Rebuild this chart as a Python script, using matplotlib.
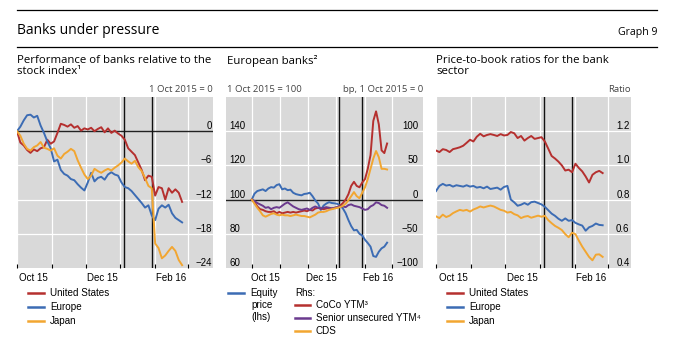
import pandas as pd
import matplotlib
matplotlib.use("Agg")
import matplotlib.pyplot as plt
from matplotlib.lines import Line2D
from matplotlib.transforms import Affine2D
from matplotlib.ticker import FormatStrFormatter

plt.rcParams["font.family"] = ["Liberation Sans", "DejaVu Sans"]

# values, one point every third day from 1 Oct 2015
dates = pd.date_range("2015-10-01", periods=50, freq="3D")
event_dates = pd.to_datetime(["2016-01-04", "2016-01-29"])
month_ticks = pd.date_range("2015-10-01", "2016-03-01", freq="MS")
label_dates = pd.to_datetime(["2015-10-16", "2015-12-16", "2016-02-15"])
label_text = ["Oct 15", "Dec 15", "Feb 16"]

# panel 1: performance relative to stock index, 1 Oct 2015 = 0
rel_us = [0.0, -2.0, -2.5, -3.3, -3.8, -3.2, -3.5, -3.0, -2.8, -1.5,
          -2.2, -1.8, -0.3, 1.3, 1.1, 0.8, 1.2, 0.6, 0.9, 0.1,
          0.5, 0.3, 0.6, 0.0, 0.4, 0.7, -0.2, 0.5, -0.3, 0.1,
          -0.4, -0.8, -1.5, -3.0, -3.6, -4.2, -5.5, -6.8, -8.6, -7.8,
          -8.0, -11.3, -9.8, -10.0, -12.0, -10.0, -10.8, -10.2, -10.8, -12.4]
rel_europe = [0.0, 0.8, 1.9, 2.8, 2.9, 2.4, 2.7, 1.0, -0.3, -1.8,
              -3.0, -5.3, -5.0, -6.8, -7.5, -7.8, -8.4, -8.6, -9.3, -9.9,
              -10.4, -9.0, -7.3, -8.8, -8.2, -8.0, -8.5, -7.6, -7.2, -7.6,
              -7.8, -9.0, -9.8, -10.0, -10.5, -11.2, -11.9, -12.6, -13.4, -13.0,
              -14.8, -15.6, -13.6, -13.0, -13.4, -12.9, -14.4, -15.2, -15.6, -16.0]
rel_japan = [0.0, -0.8, -2.2, -3.1, -3.4, -2.8, -2.5, -1.9, -2.9, -3.1,
             -3.4, -3.0, -4.3, -4.8, -4.0, -3.6, -3.1, -3.5, -5.1, -6.4,
             -7.6, -8.4, -7.8, -6.6, -7.0, -7.3, -6.9, -6.6, -6.9, -6.4,
             -6.0, -5.5, -4.8, -5.3, -5.7, -5.2, -6.3, -7.0, -8.2, -9.6,
             -10.0, -19.7, -20.5, -22.3, -21.8, -21.0, -20.3, -21.0, -22.6, -23.5]
rel_ticks = [-24, -18, -12, -6, 0]

# panel 2: European banks
eq_price = [100, 103.5, 105, 105.5, 106, 105, 106.5, 107.3, 107, 108.5,
            109, 106, 106.5, 105.5, 105.8, 104, 103.2, 102.8, 102.5, 103.3,
            103.5, 104, 102, 99.5, 97.7, 94, 96.5, 97.7, 98.5, 98,
            97.8, 97.5, 96.5, 94.8, 92, 88, 84.5, 82, 82.3, 80,
            79, 76.5, 74.6, 72.5, 67, 66.5, 69.5, 71.5, 72.5, 74.8]
coco_ytm = [0, -4, -10, -14, -15, -17, -18, -18, -17, -20,
            -18, -20, -19, -18, -19, -18, -19, -18, -17, -16,
            -17, -15, -16, -13, -12, -13, -14, -13, -12, -13,
            -12, -11, -9, -5, 0, 8, 20, 26, 20, 18,
            25, 30, 45, 65, 115, 129, 110, 72, 68, 82]
senior_ytm = [0, -2, -5, -7, -9, -12, -11, -14, -12, -11,
              -12, -9, -6, -4, -7, -10, -12, -14, -15, -14,
              -13, -15, -12, -10, -12, -13, -12, -11, -12, -13,
              -12, -11, -10, -10, -11, -8, -7, -9, -10, -11,
              -13, -15, -14, -10, -8, -4, -5, -8, -9, -12]
cds = [0, -6, -12, -17, -23, -25, -23, -21, -20, -22,
       -23, -22, -23, -23, -24, -23, -22, -23, -24, -24,
       -25, -26, -24, -22, -19, -18, -18, -17, -15, -14,
       -13, -12, -11, -9, -6, -1, 5, 11, 5, 2,
       10, 18, 30, 45, 60, 71, 62, 45, 45, 44]
lhs_ticks = [60, 80, 100, 120, 140]
rhs_ticks = [-100, -50, 0, 50, 100]

# panel 3: price-to-book ratios
pb_us = [1.087, 1.078, 1.095, 1.090, 1.078, 1.095, 1.100, 1.106, 1.115, 1.132,
         1.150, 1.140, 1.168, 1.185, 1.170, 1.178, 1.183, 1.178, 1.172, 1.183,
         1.175, 1.178, 1.195, 1.188, 1.160, 1.172, 1.145, 1.160, 1.172, 1.155,
         1.160, 1.165, 1.140, 1.098, 1.055, 1.040, 1.022, 1.000, 0.970, 0.975,
         0.960, 1.010, 0.985, 0.965, 0.935, 0.900, 0.945, 0.960, 0.968, 0.955]
pb_europe = [0.850, 0.880, 0.892, 0.882, 0.886, 0.876, 0.884, 0.880, 0.876, 0.884,
             0.876, 0.880, 0.870, 0.874, 0.866, 0.876, 0.862, 0.866, 0.870, 0.858,
             0.874, 0.880, 0.800, 0.784, 0.764, 0.770, 0.780, 0.770, 0.785, 0.788,
             0.780, 0.772, 0.758, 0.738, 0.718, 0.705, 0.688, 0.676, 0.690, 0.676,
             0.680, 0.664, 0.655, 0.648, 0.618, 0.638, 0.646, 0.660, 0.652, 0.650]
pb_japan = [0.702, 0.692, 0.712, 0.698, 0.706, 0.721, 0.731, 0.740, 0.735, 0.740,
            0.730, 0.742, 0.750, 0.760, 0.754, 0.760, 0.765, 0.760, 0.750, 0.740,
            0.735, 0.724, 0.728, 0.715, 0.708, 0.692, 0.700, 0.704, 0.694, 0.700,
            0.706, 0.700, 0.705, 0.680, 0.662, 0.646, 0.635, 0.622, 0.598, 0.580,
            0.606, 0.598, 0.560, 0.525, 0.495, 0.465, 0.445, 0.478, 0.480, 0.465]
pb_ticks = [0.4, 0.6, 0.8, 1.0, 1.2]

RED = "#b5302f"
BLUE = "#3c6cb4"
YELLOW = "#f2a631"
PURPLE = "#6b3a8e"
GRAY = "#d9d9d9"
TITLE_FONT = ["Open Sans", "DejaVu Sans"]
LW = 1.4

W, H = 675, 350
fig = plt.figure(figsize=(W / 100, H / 100), dpi=100)
PX = Affine2D().scale(1 / W, -1 / H).translate(0, 1) + fig.transFigure


def add_panel(l, t, r, b):
    return fig.add_axes([l / W, 1 - b / H, (r - l) / W, (b - t) / H])


def base_style(ax, x0, x1, white_lines, zero=None):
    ax.set_facecolor(GRAY)
    for s in ax.spines.values():
        s.set_visible(False)
    ax.set_xlim(pd.Timestamp(x0), pd.Timestamp(x1))
    ax.set_xticks(month_ticks)
    ax.set_xticks(label_dates, minor=True)
    ax.set_xticklabels(label_text, minor=True)
    ax.tick_params(axis="x", which="major", direction="in", length=3.2,
                   width=0.8, color="black", labelbottom=False)
    ax.tick_params(axis="x", which="minor", length=0, pad=3.5, labelsize=7)
    ax.grid(axis="x", which="major", color="white", lw=0.9)
    ax.set_axisbelow(True)
    for v in white_lines:
        ax.axhline(v, color="white", lw=0.9, zorder=0.6)
    if zero is not None:
        ax.axhline(zero, color="#222222", lw=1.0, zorder=1.5)
    for d in event_dates:
        ax.axvline(d, color="#111111", lw=1.0, zorder=1.6)


def right_labels(ax, ticks, pad):
    ax.yaxis.tick_right()
    ax.set_yticks(ticks)
    ax.tick_params(axis="y", length=0, pad=pad, labelsize=7)
    plt.setp(ax.get_yticklabels(), ha="right", va="bottom")


# ---- panel 1
ax1 = add_panel(17, 97, 213, 268)
base_style(ax1, "2015-10-01", "2016-03-23 12:00", [-6, -12, -18], 0)
ax1.set_ylim(-24, 6)
right_labels(ax1, rel_ticks, -1)
l_us, = ax1.plot(dates, rel_us, color=RED, lw=LW, zorder=2)
l_eu, = ax1.plot(dates, rel_europe, color=BLUE, lw=LW, zorder=2)
l_jp, = ax1.plot(dates, rel_japan, color=YELLOW, lw=LW, zorder=2)

# ---- panel 2
ax2 = add_panel(226, 97, 423, 268)
base_style(ax2, "2015-09-03", "2016-04-04", [80, 120, 140], 100)
ax2.set_ylim(60, 160)
ax2.set_yticks(lhs_ticks)
ax2.tick_params(axis="y", length=0, pad=-2.5, labelsize=7)
plt.setp(ax2.get_yticklabels(), ha="left", va="bottom")
l_eq, = ax2.plot(dates, eq_price, color=BLUE, lw=LW, zorder=2)
ax2r = ax2.twinx()
for s in ax2r.spines.values():
    s.set_visible(False)
ax2r.set_ylim(-100, 150)
right_labels(ax2r, rhs_ticks, -3.5)
l_coco, = ax2r.plot(dates, coco_ytm, color=RED, lw=LW)
l_sen, = ax2r.plot(dates, senior_ytm, color=PURPLE, lw=LW)
l_cds, = ax2r.plot(dates, cds, color=YELLOW, lw=LW)

# ---- panel 3
ax3 = add_panel(436, 97, 631, 268)
base_style(ax3, "2015-10-01", "2016-03-21", [0.6, 0.8, 1.0, 1.2])
ax3.set_ylim(0.4, 1.4)
right_labels(ax3, pb_ticks, -1)
ax3.yaxis.set_major_formatter(FormatStrFormatter("%.1f"))
p_us, = ax3.plot(dates, pb_us, color=RED, lw=LW, zorder=2)
p_eu, = ax3.plot(dates, pb_europe, color=BLUE, lw=LW, zorder=2)
p_jp, = ax3.plot(dates, pb_japan, color=YELLOW, lw=LW, zorder=2)

# ---- header and titles
for y in (10, 47):
    fig.add_artist(Line2D([17, 657], [y, y], transform=PX, color="black", lw=0.9))
fig.text(17, 31, "Banks under pressure", transform=PX, fontsize=10,
         family=TITLE_FONT, va="center")
fig.text(657, 32, "Graph 9", transform=PX, fontsize=7.6, family=TITLE_FONT,
         ha="right", va="center")

title_kw = dict(transform=PX, fontsize=8.2, family=TITLE_FONT, va="top", linespacing=1.05)
fig.text(17, 55, "Performance of banks relative to the\nstock index\u00b9", **title_kw)
fig.text(227, 55, "European banks\u00b2", **title_kw)
fig.text(436, 55, "Price-to-book ratios for the bank\nsector", **title_kw)

unit_kw = dict(transform=PX, fontsize=6.8, family=TITLE_FONT, va="center", color="#444444")
fig.text(213, 90, "1 Oct 2015 = 0", ha="right", **unit_kw)
fig.text(227, 90, "1 Oct 2015 = 100", ha="left", **unit_kw)
fig.text(423, 90, "bp, 1 Oct 2015 = 0", ha="right", **unit_kw)
fig.text(631, 90, "Ratio", ha="right", **unit_kw)


# ---- legends
def legend_item(x, y, line, text, length=16, gap=6):
    fig.add_artist(Line2D([x, x + length], [y, y], transform=PX,
                          color=line.get_color(), lw=1.8))
    fig.text(x + length + gap, y, text, transform=PX, fontsize=7.1, va="center")


for (x, lines) in [(28, [(l_us, "United States"), (l_eu, "Europe"), (l_jp, "Japan")]),
                   (447, [(p_us, "United States"), (p_eu, "Europe"), (p_jp, "Japan")])]:
    for i, (ln, txt) in enumerate(lines):
        legend_item(x, 293 + 14 * i, ln, txt)

legend_item(228, 293, l_eq, "Equity")
fig.text(251, 305, "price", transform=PX, fontsize=7.1, va="center")
fig.text(251, 317, "(lhs)", transform=PX, fontsize=7.1, va="center")
fig.text(295, 293, "Rhs:", transform=PX, fontsize=7.1, va="center")
legend_item(295, 305, l_coco, "CoCo YTM\u00b3", length=15)
legend_item(295, 318, l_sen, "Senior unsecured YTM\u2074", length=15)
legend_item(295, 331, l_cds, "CDS", length=15)

fig.savefig("out.png", dpi=100)
